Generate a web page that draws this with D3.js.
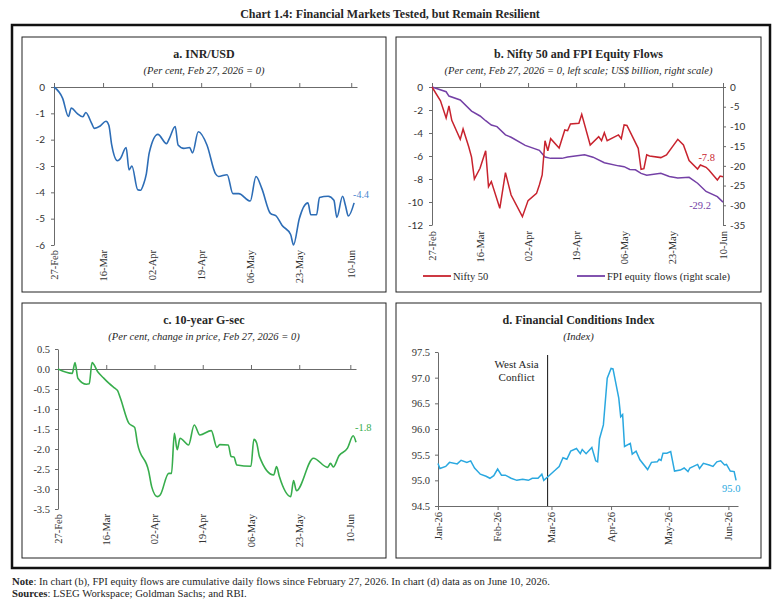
<!DOCTYPE html>
<html>
<head>
<meta charset="utf-8">
<script src="https://cdn.jsdelivr.net/npm/d3@7"></script>
<style>
  body { margin: 0; background: #fff; }
  svg text { font-family: "Liberation Serif", "DejaVu Serif", serif; fill: #262626; }
  .axis path, .axis line { stroke: #6b6b6b; }
  .sans text { font-family: Lato, "Liberation Sans", sans-serif; }
</style>
</head>
<body>
<svg id="chart" width="780" height="608"></svg>
<script>
const parse = d3.timeParse("%Y-%m-%d");
const d26 = (s) => parse("2026-" + s);

// ---- data ----
// a. INR/USD (per cent, Feb 27 = 0)
const inrDates = ["02-27","03-02","03-04","03-05","03-07","03-09","03-10","03-12","03-13","03-15","03-17","03-18","03-19","03-21","03-22","03-24","03-25","03-26","03-28","03-29","03-30","03-31","04-01","04-04","04-07","04-08","04-10","04-11","04-13","04-15","04-16","04-18","04-21","04-24","04-25","04-28","04-30","05-02","05-06","05-08","05-10","05-13","05-15","05-17","05-20","05-21","05-23","05-26","05-27","05-29","05-30","06-02","06-04","06-05","06-07","06-08","06-09","06-11"];
const inrValues = [0,-0.43,-1.12,-0.8,-1.0,-1.13,-0.97,-1.37,-1.57,-1.48,-1.3,-1.45,-2.2,-2.8,-2.72,-2.3,-3.15,-3.0,-3.9,-3.92,-3.7,-3.3,-2.5,-1.8,-2.15,-1.95,-1.5,-2.2,-2.33,-2.3,-2.5,-1.7,-2.2,-3.3,-3.4,-3.33,-4.05,-4.05,-4.33,-3.4,-3.85,-4.8,-4.9,-5.25,-5.6,-6.0,-5.0,-4.4,-4.85,-4.85,-4.2,-4.15,-4.3,-4.95,-4.15,-4.5,-4.9,-4.4];

// b. Nifty 50 (per cent) and FPI equity flows (US$ billion, cumulative)
const niftyDates = ["02-27","03-02","03-04","03-05","03-06","03-09","03-10","03-12","03-13","03-14","03-16","03-18","03-19","03-20","03-23","03-25","03-27","03-31","04-02","04-05","04-06","04-07","04-08","04-09","04-10","04-13","04-15","04-16","04-17","04-20","04-21","04-24","04-27","04-28","04-29","04-30","05-04","05-05","05-06","05-07","05-11","05-12","05-13","05-14","05-15","05-19","05-21","05-25","05-27","05-29","06-01","06-02","06-04","06-05","06-08","06-09","06-10"];
const niftyValues = [0,-1.2,-2.7,-1.65,-2.9,-4.55,-3.65,-5.2,-6.1,-8.0,-7.07,-5.54,-8.67,-8.23,-10.55,-7.45,-9.39,-11.28,-9.88,-9.25,-8.52,-7.65,-4.67,-5.54,-4.49,-5.3,-3.74,-3.8,-3.22,-3.16,-2.38,-5.04,-4.32,-4.67,-3.97,-4.67,-4.17,-4.49,-3.3,-3.35,-5.33,-7.16,-7.1,-5.9,-6.0,-6.14,-5.9,-4.55,-5.04,-6.4,-7.13,-6.78,-6.98,-7.22,-8.09,-7.74,-7.8];
const fpiDates = ["02-27","03-04","03-05","03-09","03-13","03-16","03-18","03-20","03-22","03-25","03-27","04-01","04-06","04-08","04-10","04-14","04-16","04-22","04-25","04-29","05-04","05-06","05-08","05-10","05-12","05-14","05-19","05-22","05-25","05-29","06-01","06-04","06-08","06-10"];
const fpiValues = [0,-1.2,-2.3,-3.3,-6.1,-7.35,-8.55,-9.65,-10.05,-12.15,-12.75,-14.8,-16.05,-17.75,-18.1,-18.1,-17.75,-17.2,-17.8,-19.2,-20.0,-20.2,-20.9,-21.0,-21.9,-22.4,-21.9,-22.7,-23.1,-22.9,-24.4,-26.5,-27.8,-29.2];

// c. 10-year G-sec (per cent change in price)
const gsecDates = ["02-27","03-04","03-05","03-06","03-09","03-10","03-11","03-13","03-15","03-17","03-19","03-20","03-21","03-24","03-26","03-27","03-31","04-01","04-03","04-04","04-07","04-08","04-09","04-10","04-11","04-14","04-16","04-18","04-22","04-24","04-25","04-28","04-29","04-30","05-01","05-06","05-07","05-08","05-09","05-14","05-15","05-16","05-20","05-21","05-22","05-28","06-02","06-03","06-04","06-06","06-09","06-11","06-12"];
const gsecValues = [0,-0.11,0.16,-0.23,-0.38,-0.37,0.16,-0.07,-0.22,-0.36,-0.48,-0.54,-0.73,-1.36,-1.46,-1.86,-2.57,-2.94,-3.19,-3.15,-2.61,-2.61,-1.61,-2.02,-1.73,-1.9,-1.4,-1.65,-1.54,-1.96,-1.89,-1.9,-2.19,-2.2,-2.4,-2.43,-1.76,-1.85,-2.19,-2.65,-2.44,-2.69,-3.19,-2.79,-3.04,-2.23,-2.46,-2.36,-2.45,-2.17,-1.98,-1.67,-1.83];

// d. Financial Conditions Index
const fciDates = ["01-01","01-02","01-05","01-07","01-11","01-13","01-16","01-18","01-20","01-23","01-26","01-28","01-30","02-01","02-03","02-05","02-08","02-11","02-14","02-17","02-19","02-22","02-24","02-25","02-28","03-03","03-05","03-07","03-09","03-11","03-14","03-16","03-17","03-19","03-22","03-24","03-25","03-26","03-28","03-30","04-01","04-02","04-05","04-06","04-07","04-08","04-11","04-12","04-14","04-16","04-20","04-22","04-25","04-26","04-27","04-28","04-30","05-02","05-04","05-07","05-09","05-11","05-12","05-16","05-17","05-19","05-22","05-24","05-26","05-28","05-30","05-31","06-02","06-04","06-05"];
const fciValues = [95.33,95.23,95.27,95.35,95.32,95.39,95.35,95.38,95.24,95.12,95.08,95.04,95.09,95.22,95.1,95.1,95.04,95.0,95.02,95.0,95.04,95.04,95.12,95.0,95.1,95.2,95.27,95.44,95.41,95.57,95.62,95.52,95.6,95.52,95.64,95.38,95.36,95.81,96.08,96.99,97.18,97.17,96.6,96.24,96.28,95.66,95.72,95.51,95.57,95.4,95.21,95.35,95.36,95.41,95.39,95.53,95.53,95.56,95.18,95.2,95.24,95.17,95.24,95.31,95.23,95.33,95.3,95.27,95.36,95.38,95.3,95.31,95.18,95.17,95.0];

const dayTicks = ["02-27","03-16","04-02","04-19","05-06","05-23","06-10"];
const monthTicks = ["01-01","02-01","03-01","04-01","05-01","06-01"];
const conflictDate = "02-27";

const zip = (dates, vals) => dates.map((d, i) => ({ date: d26(d), v: vals[i] }));

// ---- frame ----
const svg = d3.select("#chart");
svg.append("rect").attr("width", 780).attr("height", 608).attr("fill", "#fff");

svg.append("text")
  .attr("x", 390).attr("y", 18)
  .attr("text-anchor", "middle")
  .style("font-size", "12px").style("font-weight", "bold")
  .text("Chart 1.4: Financial Markets Tested, but Remain Resilient");

svg.append("rect")
  .attr("x", 12).attr("y", 25).attr("width", 758).attr("height", 543)
  .attr("fill", "none").attr("stroke", "#111").attr("stroke-width", 2.5);

function panel(x, y, w, h, title, sub) {
  svg.append("rect")
    .attr("x", x).attr("y", y).attr("width", w).attr("height", h)
    .attr("fill", "none").attr("stroke", "#222").attr("stroke-width", 1);
  const cx = x + w / 2;
  svg.append("text").attr("x", cx).attr("y", y + 20.5)
    .attr("text-anchor", "middle")
    .style("font-size", "12px").style("font-weight", "bold")
    .text(title);
  svg.append("text").attr("x", cx).attr("y", y + 36.5)
    .attr("text-anchor", "middle")
    .style("font-size", "10.5px").style("font-style", "italic")
    .text(sub);
}

function styleAxis(g, sans) {
  g.attr("class", sans ? "axis sans" : "axis");
  g.selectAll("text").style("font-size", sans ? "10px" : "10.5px").style("fill", "#333");
}

// rotated date labels under the plot
function dateLabels(x, ticks, yTop, fmt) {
  svg.append("g").selectAll("text")
    .data(ticks)
    .enter()
    .append("text")
    .attr("transform", (d) => `translate(${x(d)},${yTop}) rotate(-90)`)
    .attr("text-anchor", "end")
    .attr("dy", "0.35em")
    .style("font-size", "10.5px").style("fill", "#333")
    .text(fmt);
}

const fmtDay = d3.timeFormat("%d-%b");
const fmtMonth = d3.timeFormat("%b-%y");
const fmt1 = (d) => d.toFixed(1);
const fmt0 = (d) => String(d);

// ---- a. INR/USD ----
panel(22, 37, 364, 255, "a. INR/USD", "(Per cent, Feb 27, 2026 = 0)");
{
  const x = d3.scaleTime().domain([d26("02-27"), d26("06-12")]).range([54, 357]);
  const y = d3.scaleLinear().domain([-6, 0]).range([245, 87]);
  svg.append("g").attr("transform", "translate(54,0)")
    .call(d3.axisLeft(y).tickValues(d3.range(-6, 1, 1)).tickSize(3).tickSizeOuter(0).tickPadding(6).tickFormat(fmt0))
    .call((g) => styleAxis(g, true));
  svg.append("g").attr("transform", `translate(0,${y(0)})`)
    .call(d3.axisTop(x).tickValues(dayTicks.map(d26)).tickSize(4).tickSizeOuter(0).tickFormat(""))
    .call((g) => styleAxis(g));
  dateLabels(x, dayTicks.map(d26), 250, fmtDay);
  const data = zip(inrDates, inrValues);
  svg.append("path").datum(data)
    .attr("fill", "none").attr("stroke", "#2d6db6").attr("stroke-width", 1.6)
    .attr("d", d3.line().x((d) => x(d.date)).y((d) => y(d.v)).curve(d3.curveMonotoneX));
  const last = data[data.length - 1];
  svg.append("text").attr("x", x(last.date) - 1).attr("y", y(last.v) - 5)
    .style("font-size", "10px").style("fill", "#4a86cf")
    .text(last.v.toFixed(1));
}

// ---- b. Nifty 50 and FPI equity flows ----
panel(396, 37, 365, 255, "b. Nifty 50 and FPI Equity Flows",
  "(Per cent, Feb 27, 2026 = 0, left scale; US$ billion, right scale)");
{
  const x = d3.scaleTime().domain([d26("02-27"), d26("06-10")]).range([432, 723]);
  const yL = d3.scaleLinear().domain([-12, 0]).range([225, 87]);
  const yR = d3.scaleLinear().domain([-35, 0]).range([225, 87]);
  svg.append("g").attr("transform", "translate(432,0)")
    .call(d3.axisLeft(yL).tickValues(d3.range(-12, 1, 2)).tickSize(3).tickSizeOuter(0).tickPadding(6).tickFormat(fmt0))
    .call((g) => styleAxis(g, true));
  svg.append("g").attr("transform", "translate(723,0)")
    .call(d3.axisRight(yR).tickValues(d3.range(-35, 1, 5)).tickSize(3).tickSizeOuter(0).tickPadding(4).tickFormat(fmt0))
    .call((g) => styleAxis(g, true));
  svg.append("g").attr("transform", `translate(0,${yL(0)})`)
    .call(d3.axisTop(x).tickValues(dayTicks.map(d26)).tickSize(4).tickSizeOuter(0).tickFormat(""))
    .call((g) => styleAxis(g));
  dateLabels(x, dayTicks.map(d26), 231, fmtDay);

  const nifty = zip(niftyDates, niftyValues);
  const fpi = zip(fpiDates, fpiValues);
  svg.append("path").datum(fpi)
    .attr("fill", "none").attr("stroke", "#7440a6").attr("stroke-width", 1.5)
    .attr("d", d3.line().x((d) => x(d.date)).y((d) => yR(d.v)));
  svg.append("path").datum(nifty)
    .attr("fill", "none").attr("stroke", "#c8232e").attr("stroke-width", 1.5)
    .attr("d", d3.line().x((d) => x(d.date)).y((d) => yL(d.v)));

  const ln = nifty[nifty.length - 1];
  svg.append("text").attr("x", x(ln.date) - 8).attr("y", yL(ln.v) - 16)
    .attr("text-anchor", "end")
    .style("font-size", "10.5px").style("fill", "#c8232e")
    .text(ln.v.toFixed(1));
  const lf = fpi[fpi.length - 1];
  svg.append("text").attr("x", x(lf.date) - 12).attr("y", yR(lf.v) + 7)
    .attr("text-anchor", "end")
    .style("font-size", "10.5px").style("fill", "#7440a6")
    .text(lf.v.toFixed(1));

  // legend
  const legend = [
    { label: "Nifty 50", color: "#c8232e", x: 423 },
    { label: "FPI equity flows (right scale)", color: "#7440a6", x: 577 },
  ];
  const lg = svg.append("g").selectAll("g").data(legend).enter().append("g");
  lg.append("line")
    .attr("x1", (d) => d.x).attr("x2", (d) => d.x + 28)
    .attr("y1", 276).attr("y2", 276)
    .attr("stroke", (d) => d.color).attr("stroke-width", 1.8);
  lg.append("text")
    .attr("x", (d) => d.x + 30).attr("y", 279.5)
    .style("font-size", "10.5px")
    .text((d) => d.label);
}

// ---- c. 10-year G-sec ----
panel(22, 303, 364, 255, "c. 10-year G-sec", "(Per cent, change in price, Feb 27, 2026 = 0)");
{
  const x = d3.scaleTime().domain([d26("02-27"), d26("06-12")]).range([58, 356]);
  const y = d3.scaleLinear().domain([-3.5, 0.5]).range([509, 349]);
  svg.append("g").attr("transform", "translate(58,0)")
    .call(d3.axisLeft(y).tickValues(d3.range(-3.5, 0.51, 0.5)).tickSize(3).tickSizeOuter(0).tickPadding(5).tickFormat(fmt1))
    .call((g) => styleAxis(g));
  svg.append("g").attr("transform", `translate(0,${y(0)})`)
    .call(d3.axisTop(x).tickValues(dayTicks.map(d26)).tickSize(4).tickSizeOuter(0).tickFormat(""))
    .call((g) => styleAxis(g));
  dateLabels(x, dayTicks.map(d26), 514, fmtDay);
  const data = zip(gsecDates, gsecValues);
  svg.append("path").datum(data)
    .attr("fill", "none").attr("stroke", "#37ad4c").attr("stroke-width", 1.6)
    .attr("d", d3.line().x((d) => x(d.date)).y((d) => y(d.v)).curve(d3.curveMonotoneX));
  const last = data[data.length - 1];
  svg.append("text").attr("x", x(last.date) - 1).attr("y", y(last.v) - 11)
    .style("font-size", "10.5px").style("fill", "#37ad4c")
    .text(last.v.toFixed(1));
}

// ---- d. Financial Conditions Index ----
panel(396, 303, 365, 255, "d. Financial Conditions Index", "(Index)");
{
  const x = d3.scaleTime().domain([d26("01-01"), d26("06-06")]).range([438, 738]);
  const y = d3.scaleLinear().domain([94.5, 97.5]).range([506, 352]);
  svg.append("g").attr("transform", "translate(438,0)")
    .call(d3.axisLeft(y).tickValues(d3.range(94.5, 97.51, 0.5)).tickSize(3).tickSizeOuter(0).tickPadding(5).tickFormat(fmt1))
    .call((g) => styleAxis(g));
  svg.append("g").attr("transform", `translate(0,${y(94.5)})`)
    .call(d3.axisBottom(x).tickValues(monthTicks.map(d26)).tickSize(4).tickSizeOuter(0).tickFormat(""))
    .call((g) => styleAxis(g));
  dateLabels(x, monthTicks.map(d26), 512, fmtMonth);

  // West Asia conflict marker
  const xc = x(d26(conflictDate));
  svg.append("line")
    .attr("x1", xc).attr("x2", xc).attr("y1", 355).attr("y2", y(94.5))
    .attr("stroke", "#111").attr("stroke-width", 1);
  svg.append("text").attr("x", xc - 31).attr("y", 368)
    .attr("text-anchor", "middle").style("font-size", "11px").text("West Asia");
  svg.append("text").attr("x", xc - 31).attr("y", 381)
    .attr("text-anchor", "middle").style("font-size", "11px").text("Conflict");

  const data = zip(fciDates, fciValues);
  svg.append("path").datum(data)
    .attr("fill", "none").attr("stroke", "#2aa8e0").attr("stroke-width", 1.5)
    .attr("d", d3.line().x((d) => x(d.date)).y((d) => y(d.v)));
  const last = data[data.length - 1];
  svg.append("text").attr("x", x(last.date) - 14).attr("y", y(last.v) + 12)
    .style("font-size", "10.5px").style("fill", "#2aa8e0")
    .text(last.v.toFixed(1));
}

// ---- notes ----
const note = svg.append("text").attr("x", 12).attr("y", 584.5).style("font-size", "10.7px");
note.append("tspan").style("font-weight", "bold").text("Note");
note.append("tspan").text(": In chart (b), FPI equity flows are cumulative daily flows since February 27, 2026. In chart (d) data as on June 10, 2026.");
const src = svg.append("text").attr("x", 12).attr("y", 597).style("font-size", "10.7px");
src.append("tspan").style("font-weight", "bold").text("Sources");
src.append("tspan").text(": LSEG Workspace; Goldman Sachs; and RBI.");
</script>
</body>
</html>
